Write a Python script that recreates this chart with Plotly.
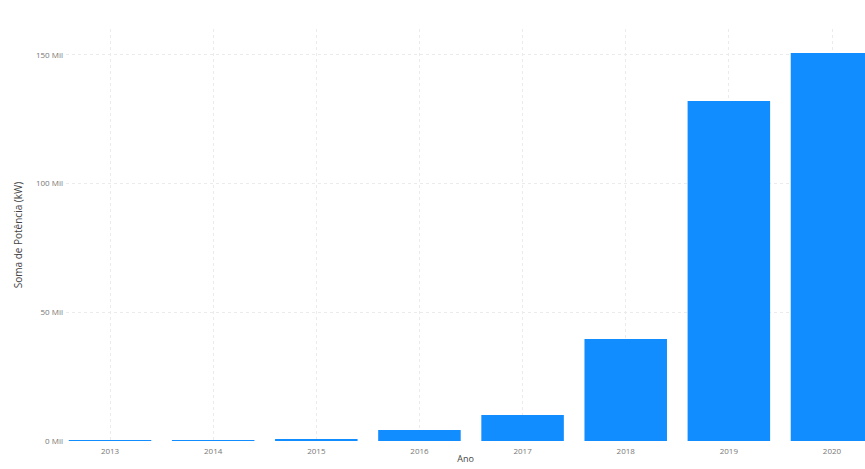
import plotly.graph_objects as go

anos = [2013, 2014, 2015, 2016, 2017, 2018, 2019, 2020]
potencia_kw = [300, 300, 600, 4300, 10100, 39600, 132000, 150700]
y_ticks = [0, 50000, 100000, 150000]
y_tick_labels = ["0 Mil", "50 Mil", "100 Mil", "150 Mil"]

fig = go.Figure(go.Bar(
    x=anos, y=potencia_kw,
    marker=dict(color="#118DFF", line=dict(width=0)),
    width=0.8,
))

fig.update_layout(
    width=865, height=469,
    margin=dict(l=66, r=0, t=29, b=28),
    paper_bgcolor="white", plot_bgcolor="white",
    font=dict(family="Open Sans, sans-serif", size=8, color="#777777"),
    showlegend=False,
    bargap=0.2,
)
fig.update_xaxes(
    range=[2012.573, 2020.32],
    tickmode="array", tickvals=anos, ticktext=[str(a) for a in anos],
    showgrid=True, gridcolor="#ebebeb", griddash="dot", gridwidth=1,
    showline=False, zeroline=False, ticks="",
    ticklabelstandoff=4,
    title=dict(text="Ano", font=dict(size=9, color="#444444"), standoff=0),
    tickfont=dict(size=8, color="#777777"),
)
fig.update_yaxes(
    range=[0, 160000],
    tickmode="array", tickvals=y_ticks, ticktext=y_tick_labels,
    showgrid=True, gridcolor="#ebebeb", griddash="dot", gridwidth=1,
    showline=False, zeroline=False, ticks="",
    ticklabelstandoff=2,
    title=dict(text="Soma de Potência (kW)", font=dict(size=10, color="#444444"), standoff=11),
    tickfont=dict(size=8, color="#777777"),
)

fig.write_html("out.html")
